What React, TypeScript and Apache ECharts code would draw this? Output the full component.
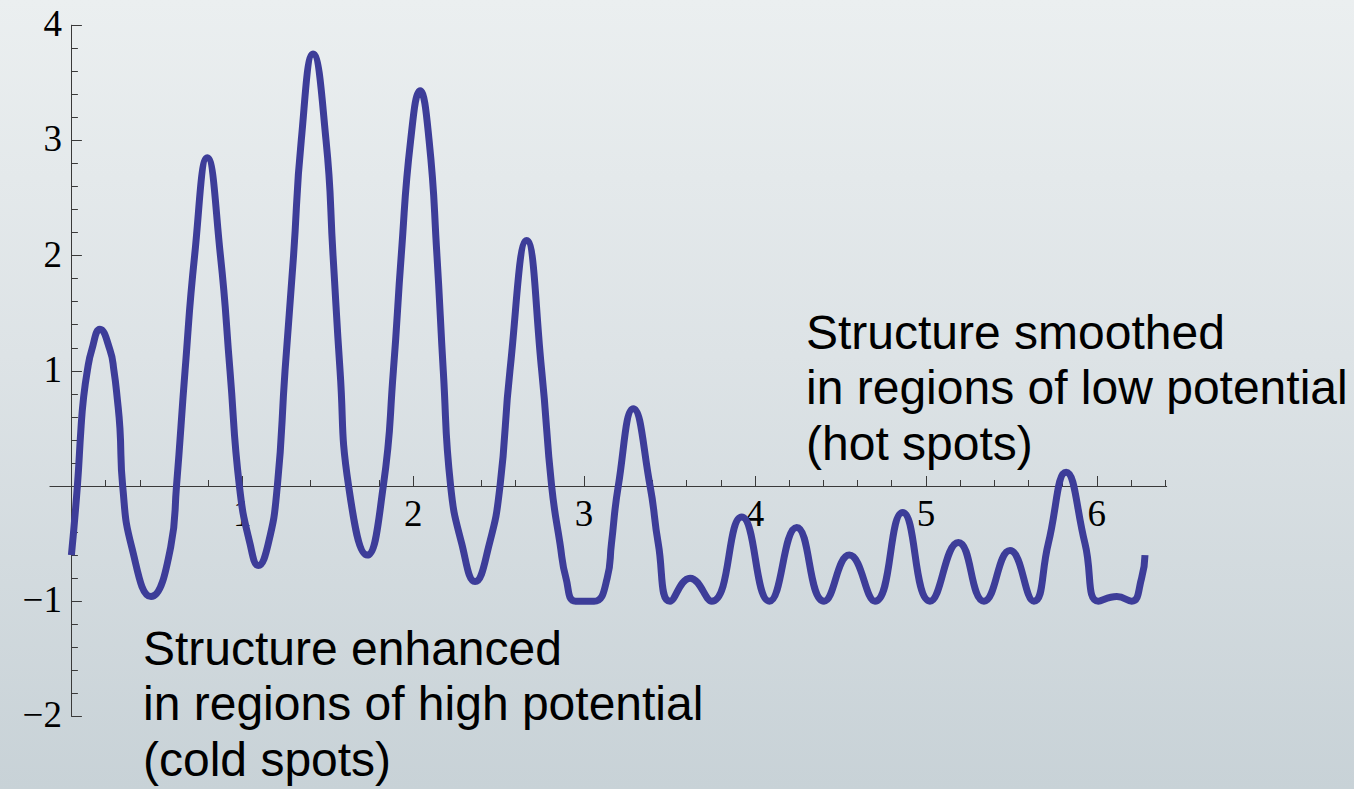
import React, { useEffect, useRef } from 'react';
import * as echarts from 'echarts';

// Curve (x, y pairs)
const curveX = [
  0.000, 0.035, 0.056, 0.070, 0.093, 0.119, 0.167, 0.226, 0.249, 0.269,
  0.284, 0.300, 0.353, 0.466, 0.581, 0.615, 0.665, 0.721, 0.795, 0.872,
  0.928, 0.983, 1.045, 1.094, 1.152, 1.205, 1.250, 1.300, 1.345, 1.414,
  1.490, 1.531, 1.572, 1.622, 1.731, 1.825, 1.884, 1.930, 1.985, 2.040,
  2.093, 2.139, 2.176, 2.219, 2.284, 2.362, 2.446, 2.508, 2.566, 2.664,
  2.752, 2.810, 2.859, 2.894, 2.950, 3.058, 3.135, 3.160, 3.200, 3.288,
  3.386, 3.434, 3.503, 3.620, 3.747, 3.922, 4.084, 4.244, 4.404, 4.552,
  4.702, 4.864, 5.024, 5.190, 5.340, 5.492, 5.632, 5.716, 5.820, 5.931,
  6.009, 6.117, 6.204, 6.262, 6.282,
];
const curveY = [
  -0.60, 0.00, 0.50, 0.75, 1.00, 1.18, 1.36, 1.18, 1.00, 0.75,
  0.50, 0.00, -0.53, -0.96, -0.53, 0.00, 1.00, 2.00, 2.85, 2.00,
  1.00, 0.00, -0.50, -0.69, -0.50, 0.00, 1.00, 2.00, 3.00, 3.75,
  3.00, 2.00, 1.00, 0.00, -0.60, 0.00, 1.00, 2.00, 3.00, 3.43,
  3.00, 2.00, 1.00, 0.00, -0.50, -0.83, -0.50, 0.00, 1.00, 2.13,
  1.00, 0.00, -0.50, -0.80, -1.00, -1.00, -0.80, -0.50, 0.00, 0.67,
  0.00, -0.50, -1.00, -0.80, -1.00, -0.27, -1.00, -0.36, -1.00, -0.60,
  -1.00, -0.23, -1.00, -0.49, -1.00, -0.56, -1.00, -0.50, 0.12, -0.50,
  -1.00, -0.96, -1.00, -0.80, -0.60,
];

// plot range: x axis line runs from xPad to xMax, y axis sits at x = 0
const xPad = -0.1257;
const xMin = 0;
const xMax = 6.4089;
const yMin = -2;
const yMax = 4;
const xMajorTicks = [1, 2, 3, 4, 5, 6];
const xMinorTicks = [
  0.2, 0.4, 0.6, 0.8, 1.2, 1.4, 1.6, 1.8, 2.2, 2.4, 2.6, 2.8, 3.2, 3.4, 3.6,
  3.8, 4.2, 4.4, 4.6, 4.8, 5.2, 5.4, 5.6, 5.8, 6.2, 6.4,
];
const yTickLabels = [-2, -1, 1, 2, 3, 4];

const noteHot = ['Structure smoothed', 'in regions of low potential', '(hot spots)'];
const noteCold = ['Structure enhanced', 'in regions of high potential', '(cold spots)'];

const AXIS_COLOR = '#3a3a3a';
const SERIF = '"Liberation Serif", "Times New Roman", Times, serif';
const SANS = '"Liberation Sans", Arial, Helvetica, sans-serif';

// layout (pixels)
const PX_PER_X = 170.9;
const ZERO_X = 71.4;
const GRID_TOP = 25.2;
const GRID_H = 691.2;
const GRID_W = (xMax - xMin) * PX_PER_X;
const STUB_W = (0 - xPad) * PX_PER_X;
const ZERO_FROM_BOTTOM = (GRID_H * (0 - yMin)) / (yMax - yMin);

export default function App() {
  const ref = useRef<HTMLDivElement>(null);

  useEffect(() => {
    const chart = echarts.init(ref.current as HTMLDivElement, null, { renderer: 'svg' });
    const data = curveX.map((x, i) => [x, curveY[i]]);
    const fmtY = (v: number) => (v === 0 ? '' : v < 0 ? '\u2212' + Math.abs(v) : String(v));
    const labelFont = { color: '#000', fontFamily: SERIF, fontSize: 37 };

    chart.setOption({
      animation: false,
      backgroundColor: 'transparent',
      grid: [
        { left: ZERO_X, top: GRID_TOP, width: GRID_W, height: GRID_H, containLabel: false },
        // short piece of the x axis left of the y axis
        { left: ZERO_X - STUB_W, top: GRID_TOP, width: STUB_W, height: GRID_H, containLabel: false },
      ],
      xAxis: [
        {
          type: 'value',
          gridIndex: 0,
          min: xMin,
          max: xMax,
          position: 'bottom',
          offset: -ZERO_FROM_BOTTOM,
          axisLine: { show: true, onZero: false, lineStyle: { color: AXIS_COLOR, width: 1 } },
          axisTick: { show: true, inside: true, length: 10, customValues: xMajorTicks, lineStyle: { color: AXIS_COLOR, width: 1 } },
          axisLabel: { show: true, customValues: xMajorTicks, margin: 9, ...labelFont },
          splitLine: { show: false },
        },
        {
          type: 'value',
          gridIndex: 0,
          min: xMin,
          max: xMax,
          position: 'bottom',
          offset: -ZERO_FROM_BOTTOM,
          axisLine: { show: false, onZero: false },
          axisTick: { show: true, inside: true, length: 6, customValues: xMinorTicks, lineStyle: { color: AXIS_COLOR, width: 1 } },
          axisLabel: { show: false },
          splitLine: { show: false },
        },
        {
          type: 'value',
          gridIndex: 1,
          min: xPad,
          max: 0,
          position: 'bottom',
          offset: -ZERO_FROM_BOTTOM,
          axisLine: { show: true, onZero: false, lineStyle: { color: AXIS_COLOR, width: 1 } },
          axisTick: { show: false },
          axisLabel: { show: false },
          splitLine: { show: false },
        },
      ],
      yAxis: [
        {
          type: 'value',
          gridIndex: 0,
          min: yMin,
          max: yMax,
          interval: 1,
          position: 'left',
          axisLine: { show: true, onZero: false, lineStyle: { color: AXIS_COLOR, width: 1 } },
          axisTick: { show: true, inside: true, length: 10.5, lineStyle: { color: AXIS_COLOR, width: 1 } },
          minorTick: { show: true, splitNumber: 5, length: 6.5, lineStyle: { color: AXIS_COLOR, width: 1 } },
          axisLabel: { show: false },
          splitLine: { show: false },
          minorSplitLine: { show: false },
        },
        {
          type: 'value',
          gridIndex: 1,
          min: yMin,
          max: yMax,
          show: false,
        },
      ],
      series: [
        {
          type: 'line',
          xAxisIndex: 0,
          yAxisIndex: 0,
          data,
          smooth: 0.5,
          symbol: 'none',
          showSymbol: false,
          clip: false,
          lineStyle: { color: '#3d3d99', width: 7, cap: 'butt' },
          z: 5,
        },
      ],
    });

    // y tick labels placed through the y axis scale, right-aligned left of the axis
    const yLabelEls = yTickLabels.map((v) => {
      const py = chart.convertToPixel({ yAxisIndex: 0 }, v) as unknown as number;
      return {
        type: 'text',
        x: ZERO_X - 9.5,
        y: py - 1.5,
        silent: true,
        z: 10,
        style: {
          text: fmtY(v),
          align: 'right',
          verticalAlign: 'middle',
          textAlign: 'right',
          textVerticalAlign: 'middle',
          font: '37px ' + SERIF,
          fill: '#000',
        },
      };
    });

    chart.setOption({
      graphic: [
        {
          type: 'text',
          left: 806,
          top: 304.6,
          z: 10,
          style: { text: noteHot.join('\n'), font: '48px ' + SANS, fill: '#000', lineHeight: 55.5 },
        },
        {
          type: 'text',
          left: 143,
          top: 620.6,
          z: 10,
          style: { text: noteCold.join('\n'), font: '48px ' + SANS, fill: '#000', lineHeight: 55.5 },
        },
        ...yLabelEls,
      ],
    });

    return () => chart.dispose();
  }, []);

  return (
    <div
      ref={ref}
      style={{
        position: 'fixed',
        left: 0,
        top: 0,
        width: 1354,
        height: 789,
        background: 'linear-gradient(180deg, #ebeff0 0%, #dde3e6 45%, #c8d2d7 100%)',
      }}
    />
  );
}
